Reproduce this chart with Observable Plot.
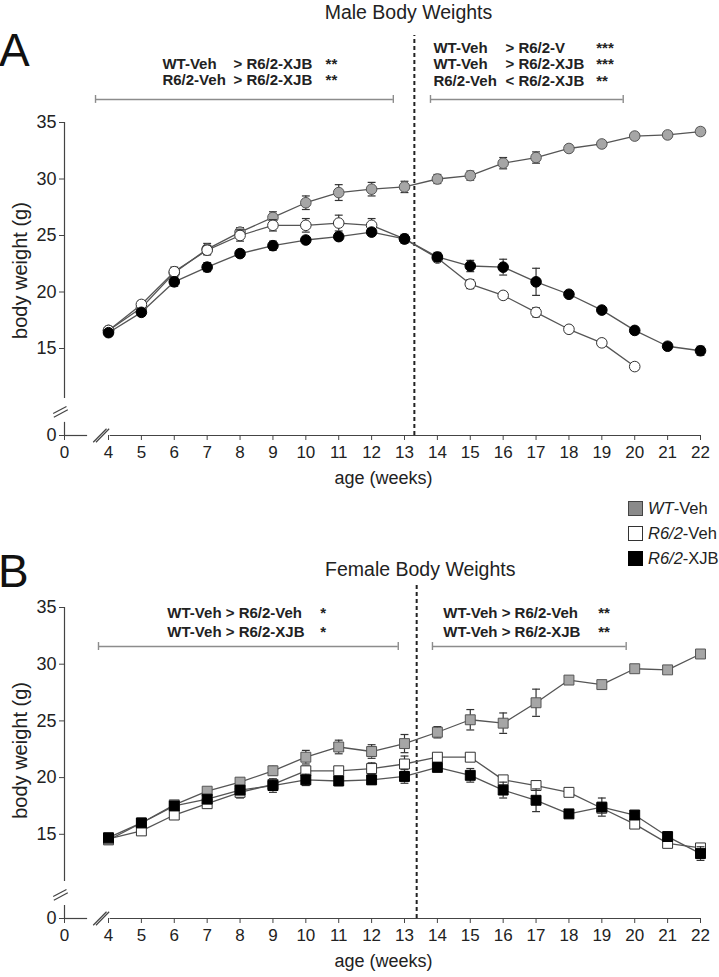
<!DOCTYPE html>
<html><head><meta charset="utf-8">
<script src="https://cdn.jsdelivr.net/npm/d3@7"></script>
<script src="https://cdn.jsdelivr.net/npm/@observablehq/plot@0.6"></script>
<style>
body{margin:0;background:#fff;font-family:'Liberation Sans',Arial,sans-serif;}
#wrap{position:relative;width:719px;height:977px;}
#wrap svg{display:block;}
#legend{position:absolute;left:628px;top:501px;font-size:16.5px;color:#222;}
#legend .row{display:flex;align-items:center;height:15px;margin-bottom:10px;}
#legend .sw{width:13px;height:13px;border:1px solid #333;margin-right:5px;box-sizing:content-box;}
</style></head><body>
<div id="wrap"><div id="panelA"></div><div id="panelB"></div>
<div id="legend">
  <div class="row"><span class="sw" style="background:#8a8a8a;border-color:#444"></span><span><i>WT</i>-Veh</span></div>
  <div class="row"><span class="sw" style="background:#fff"></span><span><i>R6/2</i>-Veh</span></div>
  <div class="row"><span class="sw" style="background:#000;border-color:#000"></span><span><i>R6/2</i>-XJB</span></div>
</div></div>
<script>
// ---- data ----
const weeks = [4,5,6,7,8,9,10,11,12,13,14,15,16,17,18,19,20,21,22];
const groups = ["WT-Veh", "R6/2-Veh", "R6/2-XJB"];
const xTicks = [0,4,5,6,7,8,9,10,11,12,13,14,15,16,17,18,19,20,21,22];
const yTicks = [0,15,20,25,30,35];

const maleWT     = [16.6,18.6,21.7,23.8,25.3,26.6,27.9,28.8,29.1,29.3,30.0,30.3,31.4,31.9,32.7,33.1,33.8,33.9,34.2];
const maleWTErr  = [0.3,0.3,0.4,0.5,0.4,0.5,0.6,0.7,0.6,0.5,0.4,0.4,0.5,0.5,0.3,0.3,0.3,0.3,0.3];
const maleVeh    = [16.6,18.9,21.8,23.7,25.0,25.9,25.9,26.1,25.9,24.7,23.0,20.7,19.7,18.2,16.7,15.5,13.4];
const maleVehErr = [0.3,0.3,0.4,0.4,0.5,0.5,0.6,0.7,0.6,0.3,0.3,0.4,0.3,0.4,0.3,0.3,0.3];
const maleXJB    = [16.4,18.2,20.9,22.2,23.4,24.1,24.6,24.9,25.3,24.7,23.1,22.3,22.2,20.9,19.8,18.4,16.6,15.2,14.8];
const maleXJBErr = [0.3,0.3,0.4,0.4,0.3,0.4,0.3,0.3,0.3,0.4,0.4,0.5,0.7,1.2,0.3,0.3,0.3,0.3,0.4];

const femaleWT     = [14.5,16.0,17.6,18.8,19.6,20.6,21.8,22.7,22.3,23.0,24.0,25.1,24.8,26.6,28.6,28.2,29.6,29.5,30.9];
const femaleWTErr  = [0.3,0.3,0.3,0.3,0.3,0.4,0.6,0.6,0.6,0.8,0.5,0.9,0.9,1.2,0.3,0.3,0.3,0.3,0.3];
const femaleVeh    = [14.6,15.3,16.7,17.7,18.7,19.4,20.6,20.6,20.8,21.2,21.8,21.8,19.8,19.3,18.7,17.3,15.9,14.2,13.8];
const femaleVehErr = [0.3,0.3,0.3,0.3,0.5,0.4,0.4,0.3,0.5,0.7,0.3,0.3,0.3,0.4,0.3,0.4,0.3,0.3,0.3];
const femaleXJB    = [14.7,16.0,17.5,18.1,18.9,19.3,19.8,19.7,19.8,20.1,20.9,20.2,18.9,18.0,16.8,17.4,16.7,14.8,13.3];
const femaleXJBErr = [0.3,0.3,0.3,0.3,0.4,0.6,0.5,0.4,0.4,0.6,0.3,0.6,0.7,1.0,0.3,0.8,0.3,0.4,0.6];

const maleStatsLeft = [
  ["WT-Veh", "> R6/2-XJB", "**"],
  ["R6/2-Veh", "> R6/2-XJB", "**"]
];
const maleStatsRight = [
  ["WT-Veh", "> R6/2-V", "***"],
  ["WT-Veh", "> R6/2-XJB", "***"],
  ["R6/2-Veh", "< R6/2-XJB", "**"]
];
const femaleStatsLeft = [
  ["WT-Veh > R6/2-Veh", "*"],
  ["WT-Veh > R6/2-XJB", "*"]
];
const femaleStatsRight = [
  ["WT-Veh > R6/2-Veh", "**"],
  ["WT-Veh > R6/2-XJB", "**"]
];

// ---- helpers ----
const mk = (vals, errs, group) => vals.map((v, i) => ({week: weeks[i], value: v, err: errs[i], group}));
const style = {
  "WT-Veh":   {fill: "#a6a6a6", stroke: "#555"},
  "R6/2-Veh": {fill: "#ffffff", stroke: "#333"},
  "R6/2-XJB": {fill: "#000000", stroke: "#000"}
};
const FONT = "'Liberation Sans', Arial, sans-serif";

function panel(cfg) {
  const series = cfg.series;
  const marks = [];
  // axis lines with breaks
  marks.push(Plot.ruleX([{x: 0, y1: cfg.yUpperBottom, y2: 35}], {x: "x", y1: "y1", y2: "y2", stroke: "#444", strokeWidth: 1.2}));
  marks.push(Plot.ruleX([{x: 0, y1: 0, y2: cfg.yLowerTop}], {x: "x", y1: "y1", y2: "y2", stroke: "#444", strokeWidth: 1.2}));
  marks.push(Plot.ruleY([{y: 0, x1: 0, x2: 2.1}, {y: 0, x1: 4.05, x2: 22}], {y: "y", x1: "x1", x2: "x2", stroke: "#444", strokeWidth: 1.2}));
  marks.push(Plot.link(cfg.breaks, {x1: "x1", y1: "y1", x2: "x2", y2: "y2", stroke: "#444", strokeWidth: 1.2}));
  marks.push(Plot.axisX(xTicks, {tickSize: 5, tickPadding: 5, fontSize: 17, stroke: "#444", fill: "#222", fontFamily: "'Liberation Sans Narrow', 'Liberation Sans', Arial, sans-serif", tickFormat: d => String(d), label: null}));
  marks.push(Plot.axisY(yTicks, {tickSize: 5, tickPadding: 3, fontSize: 18, stroke: "#444", fill: "#222", tickFormat: d => String(d), label: null}));
  // dashed divider
  marks.push(Plot.ruleX([{x: cfg.dashX, y1: 0, y2: cfg.dashTop}], {x: "x", y1: "y1", y2: "y2", stroke: "#222", strokeWidth: 2, strokeDasharray: "4,3"}));
  // brackets
  marks.push(Plot.ruleY(cfg.brackets, {y: "y", x1: "x1", x2: "x2", stroke: "#8c8c8c", strokeWidth: 1.6}));
  const ends = cfg.brackets.flatMap(b => [{x: b.x1, y: b.y}, {x: b.x2, y: b.y}]);
  marks.push(Plot.ruleX(ends, {x: "x", y1: d => d.y - cfg.capG, y2: d => d.y + cfg.capG, stroke: "#8c8c8c", strokeWidth: 1.4}));
  // stats text
  for (const t of cfg.stats) {
    marks.push(Plot.text(t.rows, {x: t.x, y: (d, i) => t.ys[i], text: d => d[t.col], textAnchor: "start", fontWeight: "bold", fontSize: 15, fill: "#222"}));
  }
  // series lines
  for (const s of series) {
    marks.push(Plot.line(s, {x: "week", y: "value", stroke: "#555", strokeWidth: 1.3}));
  }
  for (const s of series) {
    const g = s[0].group;
    marks.push(Plot.ruleX(s, {x: "week", y1: d => d.value - d.err, y2: d => d.value + d.err, stroke: "#333", strokeWidth: 1.2}));
    marks.push(Plot.link(s, {x1: d => d.week - 0.12, x2: d => d.week + 0.12, y1: d => d.value + d.err, y2: d => d.value + d.err, stroke: "#333", strokeWidth: 1.2}));
    marks.push(Plot.link(s, {x1: d => d.week - 0.12, x2: d => d.week + 0.12, y1: d => d.value - d.err, y2: d => d.value - d.err, stroke: "#333", strokeWidth: 1.2}));
    marks.push(Plot.dot(s, {x: "week", y: "value", r: cfg.r, symbol: cfg.symbol, fill: style[g].fill, stroke: style[g].stroke, strokeWidth: 1}));
  }
  // titles and labels
  marks.push(Plot.text([cfg.title], {x: cfg.titleX, y: cfg.titleY, text: d => d, fontSize: 19.5, fill: "#222"}));
  marks.push(Plot.text([cfg.letter], {x: cfg.letterX, y: cfg.letterY, text: d => d, fontSize: 46, fill: "#111"}));
  marks.push(Plot.text(["body weight (g)"], {x: -4.0, y: cfg.yLabelY, text: d => d, rotate: -90, fontSize: 20, fill: "#222"}));
  marks.push(Plot.text(["age (weeks)"], {x: 12.36, y: 0, dy: 43, text: d => d, fontSize: 18, fill: "#222"}));

  return Plot.plot({
    width: 719, height: cfg.height,
    marginLeft: 64, marginRight: 19, marginTop: 0, marginBottom: cfg.height - cfg.zeroPx,
    x: {type: "linear", domain: [0, 4, 22], range: [64, 108, 700]},
    y: {type: "linear", domain: [0, 10, 46], range: cfg.yRange},
    style: {fontFamily: FONT, background: "white", overflow: "visible"},
    marks
  });
}

// ---- panel A (male) ----
const A = panel({
  height: 490, zeroPx: 435,
  yRange: [435, 404.5, -2.3],
  yUpperBottom: 10.58, yLowerTop: 4.3,
  breaks: [
    {x1: -1.03, y1: 7.2, x2: 0.18, y2: 9.5},
    {x1: -0.97, y1: 6.0, x2: 0.3, y2: 8.43},
    {x1: 2.61, y1: -2.2, x2: 3.82, y2: 2.2},
    {x1: 2.86, y1: -2.2, x2: 4.02, y2: 2.2}
  ],
  dashX: 13.3, dashTop: 42.7,
  brackets: [{y: 37.04, x1: 2.82, x2: 12.66}, {y: 37.04, x1: 13.79, x2: 19.65}],
  capG: 0.35,
  stats: [
    {rows: maleStatsLeft, col: 0, x: 5.64, ys: [40.13, 38.72]},
    {rows: maleStatsLeft, col: 1, x: 7.80, ys: [40.13, 38.72]},
    {rows: maleStatsLeft, col: 2, x: 10.60, ys: [40.13, 38.72]},
    {rows: maleStatsRight, col: 0, x: 13.88, ys: [41.55, 40.13, 38.63]},
    {rows: maleStatsRight, col: 1, x: 16.07, ys: [41.55, 40.13, 38.63]},
    {rows: maleStatsRight, col: 2, x: 18.83, ys: [41.55, 40.13, 38.63]}
  ],
  series: [mk(maleWT, maleWTErr, groups[0]), mk(maleVeh, maleVehErr, groups[1]), mk(maleXJB, maleXJBErr, groups[2])],
  symbol: "circle", r: 5.3,
  title: "Male Body Weights", titleX: 13.12, titleY: 44.73,
  letter: "A", letterX: -4.55, letterY: 41.28,
  yLabelY: 21.9
});
document.getElementById("panelA").append(A);

// ---- panel B (female) ----
const B = panel({
  height: 487, zeroPx: 428,
  yRange: [428, 400.5, -7.74],
  yUpperBottom: 10.84, yLowerTop: 4.73,
  breaks: [
    {x1: -1.03, y1: 8.0, x2: 0.18, y2: 10.13},
    {x1: -0.97, y1: 6.65, x2: 0.3, y2: 9.35},
    {x1: 2.61, y1: -2.44, x2: 3.82, y2: 2.44},
    {x1: 2.86, y1: -2.44, x2: 4.02, y2: 2.44}
  ],
  dashX: 13.37, dashTop: 36.94,
  brackets: [{y: 31.56, x1: 3.09, x2: 12.81}, {y: 31.56, x1: 13.85, x2: 19.74}],
  capG: 0.35,
  stats: [
    {rows: femaleStatsLeft, col: 0, x: 5.79, ys: [34.47, 32.8]},
    {rows: femaleStatsLeft, col: 1, x: 10.44, ys: [34.47, 32.8]},
    {rows: femaleStatsRight, col: 0, x: 14.18, ys: [34.47, 32.8]},
    {rows: femaleStatsRight, col: 1, x: 18.89, ys: [34.47, 32.8]}
  ],
  series: [mk(femaleWT, femaleWTErr, groups[0]), mk(femaleVeh, femaleVehErr, groups[1]), mk(femaleXJB, femaleXJBErr, groups[2])],
  symbol: "square", r: 5.6,
  title: "Female Body Weights", titleX: 13.48, titleY: 38.35,
  letter: "B", letterX: -4.64, letterY: 38.09,
  yLabelY: 22.4
});
document.getElementById("panelB").append(B);
</script>
</body></html>
